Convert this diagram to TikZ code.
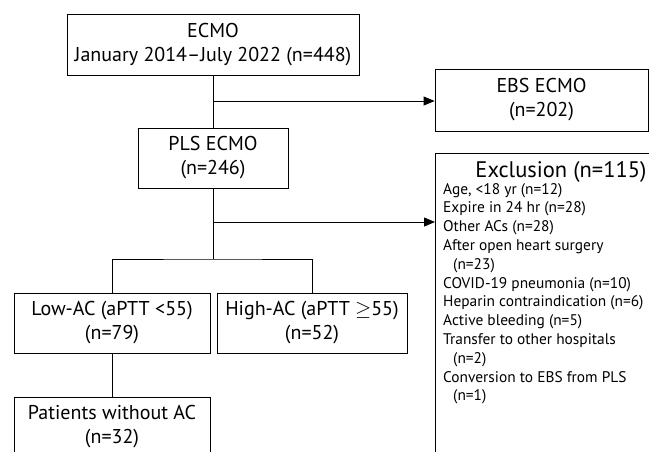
\documentclass[tikz,border=0pt]{standalone}
\usepackage{fontspec}
\setmainfont{PT Sans}
\usetikzlibrary{arrows.meta,positioning}

\tikzset{
  box/.style={draw, line width=0.8pt, rectangle, align=center,
    font=\fontsize{20}{24}\selectfont, inner sep=0pt},
  listtext/.style={align=left, inner sep=0pt,
    font=\fontsize{15.4}{18.8}\selectfont},
  link/.style={line width=0.8pt},
  arrowlink/.style={line width=0.8pt, -{Triangle[length=11pt,width=9pt]}}
}

\begin{document}
\begin{tikzpicture}[x=1pt,y=-1pt]

\clip (0,0) rectangle (649,451);

% boxes
\node[box, minimum width=292, minimum height=61] (ecmo) at (213,44.5)
  {ECMO\\January 2014--July 2022 (n=448)};
\node[box, minimum width=213, minimum height=62] (ebs) at (541.5,100)
  {EBS ECMO\\(n=202)};
\node[box, minimum width=150, minimum height=60] (pls) at (213,158)
  {PLS ECMO\\(n=246)};
\node[box, minimum width=196, minimum height=60] (low) at (112,323)
  {Low-AC (aPTT <55)\\(n=79)};
\node[box, minimum width=190, minimum height=60] (high) at (312,323)
  {High-AC (aPTT $\geq$55)\\(n=52)};
\node[box, minimum width=196, minimum height=60] (noac) at (112,427)
  {Patients without AC\\(n=32)};

% exclusion box, runs off the page
\node[box, minimum width=255, minimum height=330, anchor=north west] (excl) at (435,153) {};
\node[anchor=north, inner sep=0pt, font=\fontsize{22.5}{24}\selectfont] (exhead)
  at ([xshift=-2,yshift=-8]excl.north) {Exclusion (n=115)};
\node[listtext, anchor=north west] (exlist) at (443,183)
  {Age, <18 yr (n=12)\\
   Expire in 24 hr (n=28)\\
   Other ACs (n=28)\\
   After open heart surgery\\
   \hspace*{10pt}(n=23)\\
   COVID-19 pneumonia (n=10)\\
   Heparin contraindication (n=6)\\
   Active bleeding (n=5)\\
   Transfer to other hospitals\\
   \hspace*{10pt}(n=2)\\
   Conversion to EBS from PLS\\
   \hspace*{10pt}(n=1)};

% branch points
\coordinate (split1) at (213,101);
\coordinate (split2) at (213,222);
\coordinate (split3) at (213,259);

\draw[link] (ecmo) -- (pls);
\draw[arrowlink] (split1) -- (split1 -| ebs.west);
\draw[link] (pls) -- (split3);
\draw[arrowlink] (split2) -- (split2 -| excl.west);
\draw[link] (low.north) |- (split3) -| (high.north);
\draw[link] (low) -- (noac);

\end{tikzpicture}
\end{document}
